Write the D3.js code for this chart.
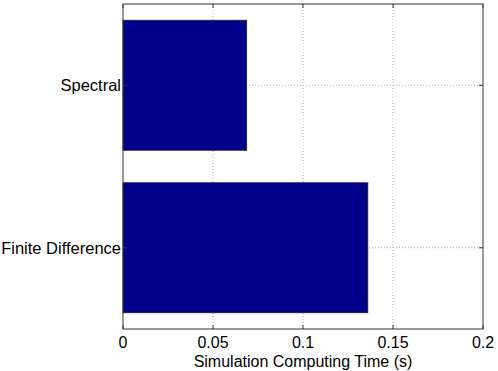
<!DOCTYPE html>
<html lang="en">
<head>
    <meta charset="UTF-8">
    <title>Simulation Computing Time</title>
    <script src="https://d3js.org/d3.v7.min.js"></script>
    <style>
        body { margin: 0; background: #fff; }
        text { font-family: "Liberation Sans", Arial, Helvetica, sans-serif; fill: #000; }
        .grid line { stroke: #b0b0b0; stroke-width: 1; stroke-dasharray: 1,2; }
    </style>
</head>
<body>
    <svg width="498" height="371"></svg>

    <script>
        // data
        const categories = ["Finite Difference", "Spectral"];
        const times = [0.136, 0.0687];
        const xTicks = [0, 0.05, 0.1, 0.15, 0.2];
        const xTickLabels = ["0", "0.05", "0.1", "0.15", "0.2"];

        const width = 498, height = 371;
        const margin = { top: 4, right: 15, bottom: 42, left: 123 };
        const fs = 16.5;
        const svg = d3.select("svg");

        const x = d3.scaleLinear().domain([0, 0.2]).range([margin.left, width - margin.right]);
        // categories sit at 1 and 2, axis from 0.5 to 2.5 (bottom to top)
        const y = d3.scaleLinear().domain([0.5, 2.5]).range([height - margin.bottom, margin.top]);
        const barH = y(0.5) - y(1.3); // bar width 0.8

        const x0 = margin.left, x1 = width - margin.right;
        const y0 = margin.top, y1 = height - margin.bottom;

        // grid
        const grid = svg.append("g").attr("class", "grid");
        grid.selectAll(".gx")
            .data(xTicks.slice(1, -1))
            .enter().append("line")
            .attr("x1", d => x(d)).attr("x2", d => x(d))
            .attr("y1", y0).attr("y2", y1);
        grid.selectAll(".gy")
            .data(categories)
            .enter().append("line")
            .attr("x1", x0).attr("x2", x1)
            .attr("y1", (d, i) => y(i + 1)).attr("y2", (d, i) => y(i + 1));

        // bars
        svg.selectAll(".bar")
            .data(times)
            .enter().append("rect")
            .attr("x", x(0))
            .attr("y", (d, i) => y(i + 1) - barH / 2)
            .attr("width", d => x(d) - x(0))
            .attr("height", barH)
            .attr("fill", "#00008b")
            .attr("stroke", "#1a1a40")
            .attr("stroke-width", 0.8);

        // frame
        svg.append("rect")
            .attr("x", x0).attr("y", y0)
            .attr("width", x1 - x0).attr("height", y1 - y0)
            .attr("fill", "none")
            .attr("stroke", "#333")
            .attr("stroke-width", 1);

        // ticks, pointing inward
        const tk = 4;
        const ticks = svg.append("g").attr("stroke", "#333").attr("stroke-width", 1);
        xTicks.forEach(t => {
            ticks.append("line").attr("x1", x(t)).attr("x2", x(t)).attr("y1", y1).attr("y2", y1 - tk);
            ticks.append("line").attr("x1", x(t)).attr("x2", x(t)).attr("y1", y0).attr("y2", y0 + tk);
        });
        categories.forEach((c, i) => {
            ticks.append("line").attr("x1", x0).attr("x2", x0 + tk).attr("y1", y(i + 1)).attr("y2", y(i + 1));
            ticks.append("line").attr("x1", x1).attr("x2", x1 - tk).attr("y1", y(i + 1)).attr("y2", y(i + 1));
        });

        // tick labels
        svg.selectAll(".xl")
            .data(xTicks)
            .enter().append("text")
            .attr("x", d => x(d))
            .attr("y", 348)
            .attr("text-anchor", "middle")
            .attr("font-size", 16)
            .text((d, i) => xTickLabels[i]);

        svg.selectAll(".yl")
            .data(categories)
            .enter().append("text")
            .attr("x", x0 - 2)
            .attr("y", (d, i) => y(i + 1))
            .attr("dy", "0.35em")
            .attr("text-anchor", "end")
            .attr("font-size", fs)
            .text(d => d);

        // axis title
        svg.append("text")
            .attr("x", (x0 + x1) / 2)
            .attr("y", 366.5)
            .attr("text-anchor", "middle")
            .attr("font-size", 16)
            .text("Simulation Computing Time (s)");
    </script>
</body>
</html>
